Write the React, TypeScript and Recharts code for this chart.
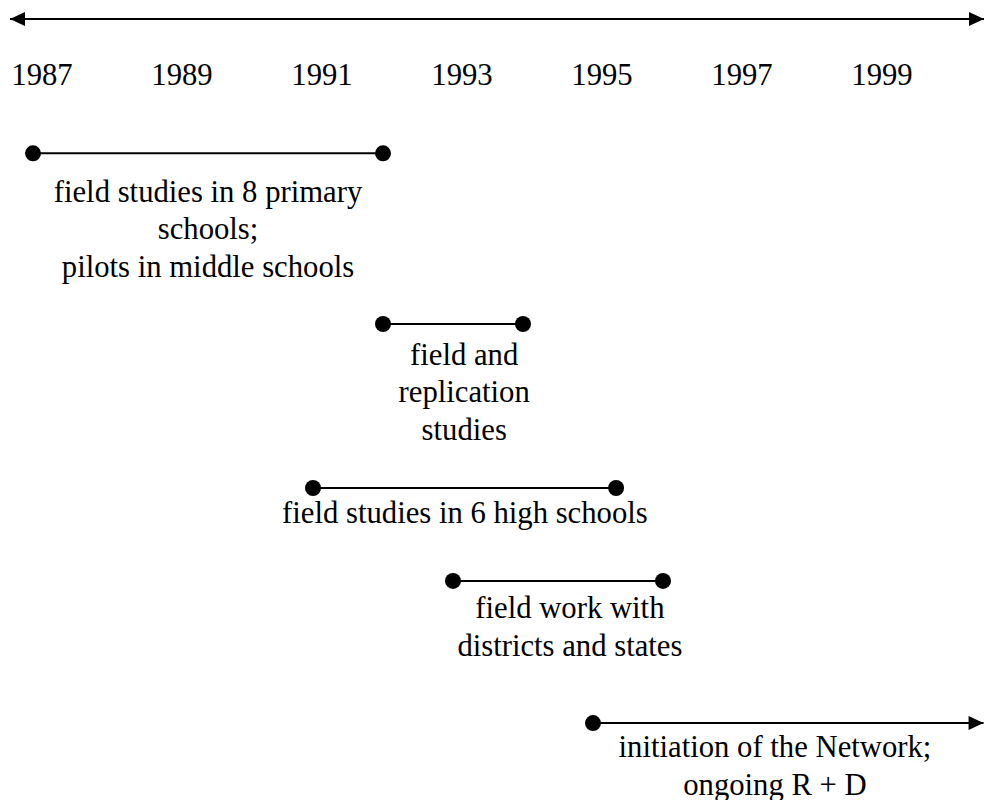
import { Scatter, ScatterChart, XAxis, YAxis } from "recharts";

// timeline values
const TICK_YEARS = [1987, 1989, 1991, 1993, 1995, 1997, 1999];
const YEAR_DOMAIN: [number, number] = [1986.671, 2000.586];

const ACTIVITY_LINES = [
  ["field studies in 8 primary", "schools;", "pilots in middle schools"],
  ["field and", "replication", "studies"],
  ["field studies in 6 high schools"],
  ["field work with", "districts and states"],
  ["initiation of the Network;", "ongoing R + D"],
];
const START_YEARS = [1987, 1992, 1991, 1993, 1995];
const END_YEARS = [1992, 1994, 1995.33, 1996, 2000.58];
const ONGOING = [false, false, false, false, true];
const LANES = [17.2, 39.05, 60.05, 71.95, 90.15];
const LABEL_YEARS = [1989.5, 1993.16, 1993.17, 1994.67, 1997.6];
const LABEL_LANES = [23.4, 44.3, 64.55, 76.7, 94.5];

const textStyle = {
  fontFamily: "Liberation Serif, Times New Roman, serif",
  fontSize: 30.7,
  fill: "#000",
};
const LINE_GAP = 37.5;

function EndPoint(props: any) {
  const { cx, cy, payload } = props;
  if (payload.arrow) {
    return <path d={`M${cx},${cy} L${cx - 15},${cy - 7} L${cx - 15},${cy + 7} Z`} fill="#000" />;
  }
  return <circle cx={cx} cy={cy} r={8} fill="#000" />;
}

function ActivityLabel(props: any) {
  const { cx, cy, payload } = props;
  return (
    <text x={cx} y={cy} textAnchor="middle" style={textStyle}>
      {payload.lines.map((line: string, i: number) => (
        <tspan key={i} x={cx} dy={i === 0 ? 0 : LINE_GAP}>
          {line}
        </tspan>
      ))}
    </text>
  );
}

function YearTick(props: any) {
  const { x, y, payload } = props;
  return (
    <text x={x + 9} y={y + 66} textAnchor="middle" style={textStyle}>
      {payload.value}
    </text>
  );
}

export default function App() {
  const labels = ACTIVITY_LINES.map((lines, i) => ({ x: LABEL_YEARS[i], y: LABEL_LANES[i], lines }));

  return (
    <div style={{ position: "absolute", left: 0, top: 0, width: 984, height: 800, background: "#fff" }}>
      <ScatterChart width={984} height={800} margin={{ top: 0, right: 0, bottom: 0, left: 10 }}>
        <defs>
          <marker
            id="axisArrow"
            markerWidth={15}
            markerHeight={14}
            refX={15}
            refY={7}
            orient="auto-start-reverse"
            markerUnits="userSpaceOnUse"
          >
            <path d="M0,0 L15,7 L0,14 Z" fill="#000" />
          </marker>
        </defs>
        <XAxis
          type="number"
          dataKey="x"
          orientation="top"
          height={19}
          domain={YEAR_DOMAIN}
          allowDataOverflow
          ticks={TICK_YEARS}
          interval={0}
          tickSize={0}
          tickMargin={0}
          tickLine={false}
          tick={<YearTick />}
          axisLine={{ stroke: "#000", strokeWidth: 2, markerStart: "url(#axisArrow)", markerEnd: "url(#axisArrow)" }}
        />
        <YAxis type="number" dataKey="y" domain={[0, 100]} reversed hide />
        {START_YEARS.map((start, i) => (
          <Scatter
            key={i}
            data={[
              { x: start, y: LANES[i], arrow: false },
              { x: END_YEARS[i], y: LANES[i], arrow: ONGOING[i] },
            ]}
            line={{ stroke: "#000", strokeWidth: 2 }}
            shape={<EndPoint />}
            isAnimationActive={false}
          />
        ))}
        <Scatter data={labels} shape={<ActivityLabel />} isAnimationActive={false} />
      </ScatterChart>
    </div>
  );
}
